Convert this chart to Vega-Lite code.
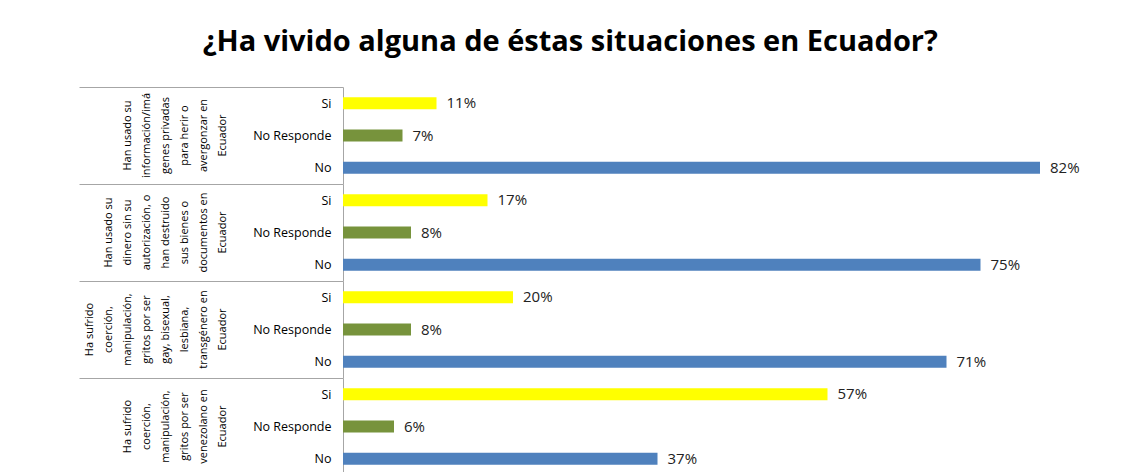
{
  "$schema": "https://vega.github.io/schema/vega-lite/v6.json",
  "background": "white",
  "padding": {"left": 78, "top": 27, "right": 5, "bottom": 0},
  "title": {"text": "¿Ha vivido alguna de éstas situaciones en Ecuador?", "font": "Open Sans", "fontSize": 29, "fontWeight": "bold", "color": "black", "anchor": "middle", "offset": 30, "dx": -23},
  "data": {"values": [
    {"g": "Han usado su|información/imá|genes privadas|para herir o|avergonzar en|Ecuador", "respuesta": "Si", "pct": 0.11},
    {"g": "Han usado su|información/imá|genes privadas|para herir o|avergonzar en|Ecuador", "respuesta": "No Responde", "pct": 0.07},
    {"g": "Han usado su|información/imá|genes privadas|para herir o|avergonzar en|Ecuador", "respuesta": "No", "pct": 0.82},
    {"g": "Han usado su|dinero sin su|autorización, o|han destruido|sus bienes o|documentos en|Ecuador", "respuesta": "Si", "pct": 0.17},
    {"g": "Han usado su|dinero sin su|autorización, o|han destruido|sus bienes o|documentos en|Ecuador", "respuesta": "No Responde", "pct": 0.08},
    {"g": "Han usado su|dinero sin su|autorización, o|han destruido|sus bienes o|documentos en|Ecuador", "respuesta": "No", "pct": 0.75},
    {"g": "Ha sufrido|coerción,|manipulación,|gritos por ser|gay, bisexual,|lesbiana,|transgénero en|Ecuador", "respuesta": "Si", "pct": 0.20},
    {"g": "Ha sufrido|coerción,|manipulación,|gritos por ser|gay, bisexual,|lesbiana,|transgénero en|Ecuador", "respuesta": "No Responde", "pct": 0.08},
    {"g": "Ha sufrido|coerción,|manipulación,|gritos por ser|gay, bisexual,|lesbiana,|transgénero en|Ecuador", "respuesta": "No", "pct": 0.71},
    {"g": "Ha sufrido|coerción,|manipulación,|gritos por ser|venezolano en|Ecuador", "respuesta": "Si", "pct": 0.57},
    {"g": "Ha sufrido|coerción,|manipulación,|gritos por ser|venezolano en|Ecuador", "respuesta": "No Responde", "pct": 0.06},
    {"g": "Ha sufrido|coerción,|manipulación,|gritos por ser|venezolano en|Ecuador", "respuesta": "No", "pct": 0.37}
  ]},
  "facet": {
    "row": {
      "field": "g", "type": "nominal",
      "sort": [
        "Han usado su|información/imá|genes privadas|para herir o|avergonzar en|Ecuador",
        "Han usado su|dinero sin su|autorización, o|han destruido|sus bienes o|documentos en|Ecuador",
        "Ha sufrido|coerción,|manipulación,|gritos por ser|gay, bisexual,|lesbiana,|transgénero en|Ecuador",
        "Ha sufrido|coerción,|manipulación,|gritos por ser|venezolano en|Ecuador"
      ],
      "header": {
        "title": null,
        "labelAngle": -90,
        "labelAlign": "center",
        "labelExpr": "split(datum.value, '|')",
        "labelFont": "Open Sans",
        "labelFontSize": 11,
        "labelColor": "black",
        "labelLineHeight": 19,
        "labelPadding": -155
      }
    }
  },
  "spacing": {"row": 0},
  "spec": {
    "width": 765,
    "height": 97,
    "encoding": {
      "y": {
        "field": "respuesta", "type": "nominal",
        "sort": ["Si", "No Responde", "No"],
        "scale": {"paddingInner": 0, "paddingOuter": 0},
        "axis": {
          "title": null,
          "domainColor": "#A6A6A6",
          "tickColor": "#A6A6A6",
          "tickSize": 264,
          "tickOffset": -16.17,
          "labelOffset": 16.17,
          "tickOpacity": {"condition": {"test": "datum.value === 'Si'", "value": 1}, "value": 0},
          "labelPadding": -252,
          "labelFont": "Open Sans",
          "labelFontSize": 12.5,
          "labelColor": "black"
        }
      },
      "x": {"field": "pct", "type": "quantitative", "scale": {"domain": [0, 0.9]}, "axis": null}
    },
    "layer": [
      {
        "mark": {"type": "bar", "size": 12},
        "encoding": {
          "color": {"field": "respuesta", "type": "nominal", "scale": {"domain": ["Si", "No Responde", "No"], "range": ["#FFFF00", "#77933C", "#4F81BD"]}, "legend": null}
        }
      },
      {
        "mark": {"type": "text", "align": "left", "dx": 10, "font": "Open Sans", "fontSize": 15, "color": "#222222"},
        "encoding": {"text": {"field": "pct", "type": "quantitative", "format": ".0%"}}
      }
    ]
  },
  "config": {"view": {"stroke": null}}
}
